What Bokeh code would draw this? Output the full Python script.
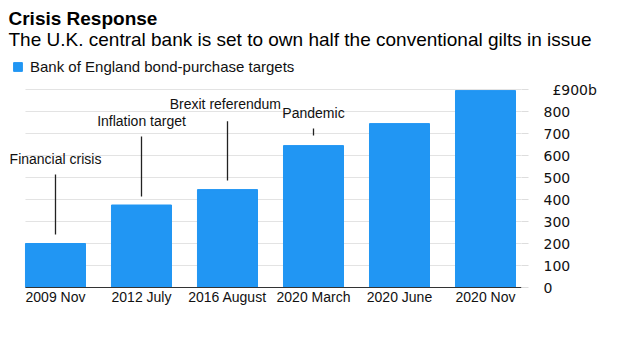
from bokeh.plotting import figure
from bokeh.layouts import column
from bokeh.models import Range1d, FixedTicker, Label, Legend, LegendItem, ColumnDataSource
from bokeh.embed import file_html
from bokeh.resources import INLINE

title = "Crisis Response"
subtitle = "The U.K. central bank is set to own half the conventional gilts in issue"
categories = ["2009 Nov", "2012 July", "2016 August", "2020 March", "2020 June", "2020 Nov"]
targets = [200, 375, 445, 645, 745, 895]
series_name = "Bank of England bond-purchase targets"
y_ticks = [0, 100, 200, 300, 400, 500, 600, 700, 800, 900]
y_tick_labels = ["0", "100", "200", "300", "400", "500", "600", "700", "800", "£900b"]

events = ["Financial crisis", "Inflation target", "Brexit referendum", "Pandemic"]
event_idx = [0, 1, 2, 3]
event_text_y = [586, 759, 832, 795]
event_text_dx = [0.0, 0.0, -0.025, 0.0]
event_line_top = [514, 686, 756, 723]
event_line_bottom = [241, 414, 486, 691]

FONT = "Liberation Sans"
TICK_FONT = "DejaVu Sans"
W, H = 620, 351
HEAD_H = 52       # header strip height
FB = 287          # frame bottom (page px from top)
FR = 521          # frame right
BAR_W = 0.698

# ---- header: title + subtitle -------------------------------------------
head = figure(width=W, height=HEAD_H, output_backend="svg", toolbar_location=None,
              x_range=Range1d(0, W), y_range=Range1d(0, HEAD_H),
              x_axis_location=None, y_axis_location=None,
              min_border_left=0, min_border_right=0, min_border_top=0, min_border_bottom=0)
head.frame_align = False
head.outline_line_color = None
head.grid.visible = False
head.background_fill_color = "white"
head.border_fill_color = "white"
head.add_layout(Label(x=8, y=HEAD_H - 17.5, text=title,
                      text_font=FONT, text_font_size="19px", text_font_style="bold",
                      text_baseline="middle", text_color="#000000"))
head.add_layout(Label(x=8, y=HEAD_H - 38.5, text=subtitle,
                      text_font=FONT, text_font_size="19px",
                      text_baseline="middle", text_color="#000000"))

# ---- chart ---------------------------------------------------------------
CH = H - HEAD_H
p = figure(width=W, height=CH, output_backend="svg", toolbar_location=None,
           x_range=Range1d(-0.6395, 5.4186), y_range=Range1d(0, (FB - HEAD_H) / 0.22),
           min_border_left=0, min_border_right=W - FR, min_border_top=0, min_border_bottom=H - FB,
           y_axis_location="right")
p.frame_align = False
p.outline_line_color = None
p.background_fill_color = "white"
p.border_fill_color = "white"

xs = list(range(len(categories)))

# horizontal gridlines at the tick values, starting at the first bar's left edge
p.xgrid.grid_line_color = None
p.ygrid.grid_line_color = None
p.segment(x0=[xs[0] - BAR_W / 2] * len(y_ticks), y0=y_ticks,
          x1=[p.x_range.end] * len(y_ticks), y1=y_ticks,
          line_color="#e3e3e3", line_width=1)

src = ColumnDataSource(dict(x=xs, top=targets))
bars = p.vbar(x="x", top="top", width=BAR_W, bottom=0, color="#2196f3", source=src)

# event annotations
for i, txt, ty, dx, lt, lb in zip(event_idx, events, event_text_y, event_text_dx, event_line_top, event_line_bottom):
    p.segment(x0=[i], y0=[lb], x1=[i], y1=[lt], line_color="#222222", line_width=1.3)
    p.add_layout(Label(x=i + dx, y=ty, text=txt, text_font=FONT, text_font_size="14px",
                       text_align="center", text_baseline="middle", text_color="#111111"))

# x axis
p.xaxis.ticker = FixedTicker(ticks=xs)
p.xaxis.major_label_overrides = {i: c for i, c in enumerate(categories)}
p.xaxis.major_tick_line_color = None
p.xaxis.major_tick_out = 0
p.xaxis.major_tick_in = 0
p.xaxis.minor_tick_line_color = None
p.xaxis.axis_line_color = "#333333"
p.xaxis.axis_line_width = 1.2
p.xaxis.major_label_text_font = FONT
p.xaxis.major_label_text_font_size = "14px"
p.xaxis.major_label_text_color = "#111111"
p.xaxis.major_label_standoff = 1
p.xaxis.bounds = (xs[0] - BAR_W / 2, p.x_range.end)

# y axis
top_label = "\u00a0\u00a0" + y_tick_labels[-1]
p.yaxis.ticker = FixedTicker(ticks=y_ticks)
p.yaxis.major_label_overrides = {t: (l if t != y_ticks[-1] else top_label) for t, l in zip(y_ticks, y_tick_labels)}
p.yaxis.axis_line_color = None
p.yaxis.major_tick_line_color = "#dddddd"
p.yaxis.major_tick_out = 7
p.yaxis.major_tick_in = 0
p.yaxis.minor_tick_line_color = None
p.yaxis.major_label_text_font = TICK_FONT
p.yaxis.major_label_text_font_size = "14px"
p.yaxis.major_label_text_color = "#111111"
p.yaxis.major_label_standoff = 15

legend = Legend(items=[LegendItem(label=series_name, renderers=[bars])],
                location=(12, FB - 75), orientation="horizontal",
                glyph_width=11, glyph_height=11, label_standoff=7, padding=0, margin=0,
                spacing=0, label_height=11,
                label_text_font=FONT, label_text_font_size="15px", label_text_color="#111111",
                border_line_color=None, background_fill_alpha=0)
p.add_layout(legend)

layout = column(head, p, spacing=0)
open("out.html", "w").write(file_html(layout, INLINE))
